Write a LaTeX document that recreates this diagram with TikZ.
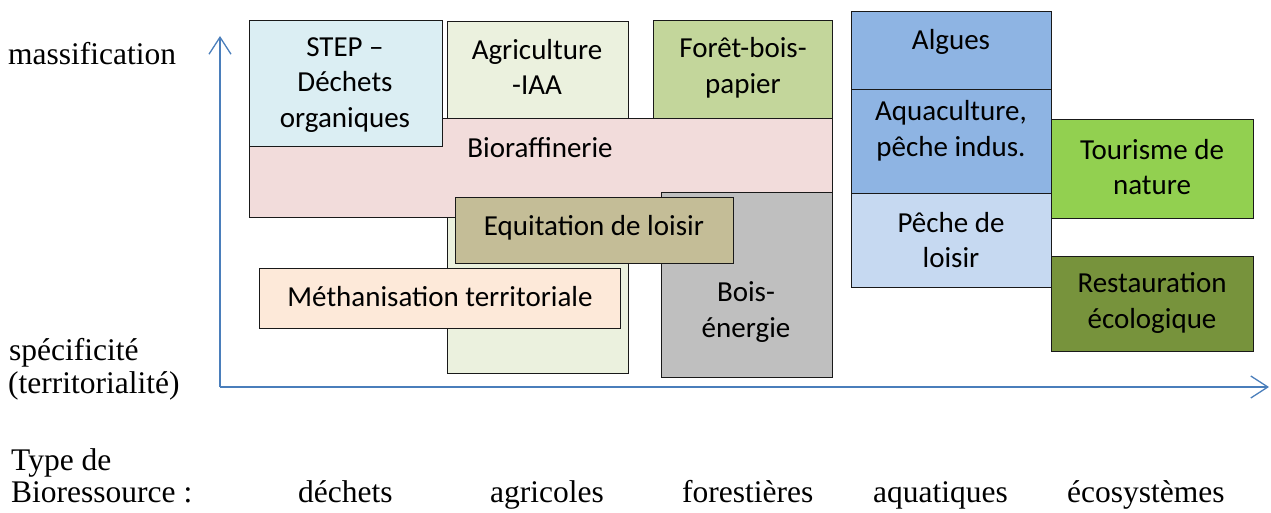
\documentclass[tikz,border=0pt]{standalone}
\usepackage{fontspec}
\setmainfont{Liberation Serif}
\newfontfamily\boxfont{Carlito}
\usetikzlibrary{arrows.meta}
\definecolor{axisblue}{HTML}{4A7EBB}
\definecolor{cagri}{HTML}{EBF1DE}
\definecolor{cforet}{HTML}{C3D69B}
\definecolor{cbois}{HTML}{BFBFBF}
\definecolor{cbioraff}{HTML}{F2DCDB}
\definecolor{cstep}{HTML}{DBEEF3}
\definecolor{cequit}{HTML}{C4BD97}
\definecolor{cmeth}{HTML}{FDE9D9}
\definecolor{caqua}{HTML}{8EB4E3}
\definecolor{cpeche}{HTML}{C6D9F1}
\definecolor{ctour}{HTML}{92D050}
\definecolor{cresto}{HTML}{77933C}
\begin{document}
\begin{tikzpicture}[x=1pt,y=-1pt,
  box/.style={draw=black!90, line width=1.2pt, inner sep=0pt, anchor=north west},
  lbl/.style={font=\boxfont\fontsize{29}{35.5}\selectfont, align=center, inner sep=0pt},
  axl/.style={font=\fontsize{31.5}{33}\selectfont, inner sep=0pt, anchor=base west},
  axisline/.style={draw=axisblue, line width=1.3pt, -{Straight Barb[length=17pt,width=22pt,line width=1.3pt]}}]
\useasboundingbox (0,0) rectangle (1271,513);

% left group
\node[box, fill=cagri, minimum width=181pt, minimum height=352pt] (agri) at (447,21) {};
\node[box, fill=cforet, minimum width=179pt, minimum height=100pt] (foret) at (653,20) {};
\node[box, fill=cbioraff, minimum width=583pt, minimum height=99pt] (bioraff) at (249,118) {};
\node[box, fill=cbois, minimum width=171pt, minimum height=185pt] (bois) at (661,192) {};
\node[box, fill=cstep, minimum width=193pt, minimum height=126pt] (step) at (249,20) {};
\node[box, fill=cequit, minimum width=278pt, minimum height=66pt] (equit) at (455,197) {};
\node[box, fill=cmeth, minimum width=361pt, minimum height=60pt] (meth) at (259,268) {};

\node[lbl] (agriT) at (537,67) {Agriculture\\-IAA};
\node[lbl] (foretT) at (743,68) {Forêt-bois-\\papier};
\node[lbl] (bioraffT) at (540,148) {Bioraffinerie};
\node[lbl] (boisT) at (746,312) {Bois-\\énergie};
\node[lbl] (stepT) at (345,85) {STEP –\\Déchets\\organiques};
\node[lbl] (equitT) at (594,228) {Equitation de loisir};
\node[lbl] (methT) at (440,297) {Méthanisation territoriale};

% right group
\node[box, fill=caqua, minimum width=200pt, minimum height=78pt] (algues) at (851,11) {};
\node[box, fill=caqua, minimum width=200pt, minimum height=104pt] (aqua) at (851,89) {};
\node[box, fill=cpeche, minimum width=200pt, minimum height=94pt] (peche) at (851,193) {};
\node[box, fill=ctour, minimum width=202pt, minimum height=99pt] (tour) at (1051,119) {};
\node[box, fill=cresto, minimum width=202pt, minimum height=95pt] (resto) at (1051,256) {};

\node[lbl] (alguesT) at (951,42) {Algues};
\node[lbl] (aquaT) at (951,131) {Aquaculture,\\pêche indus.};
\node[lbl] (pecheT) at (951,240) {Pêche de\\loisir};
\node[lbl] (tourT) at (1152,167) {Tourisme de\\nature};
\node[lbl] (restoT) at (1152,303) {Restauration\\écologique};

% axes
\coordinate (o) at (220,387);
\coordinate (ytop) at (220,36);
\coordinate (xend) at (1269,387);
\draw[axisline] (o) -- (ytop);
\draw[axisline] (o) -- (xend);

% axis labels
\node[axl] (mass) at (8,65) {massification};
\node[axl] (spec) at (9,360) {spécificité};
\node[axl] (terr) at (8,393) {(territorialité)};
\node[axl] (type) at (11,470) {Type de};
\node[axl] (bio) at (11,502) {Bioressource :};
\node[axl] (dech) at (298,502) {déchets};
\node[axl] (agric) at (490,502) {agricoles};
\node[axl] (fores) at (682,502) {forestières};
\node[axl] (aquat) at (873,502) {aquatiques};
\node[axl] (ecos) at (1067,502) {écosystèmes};
\end{tikzpicture}
\end{document}
